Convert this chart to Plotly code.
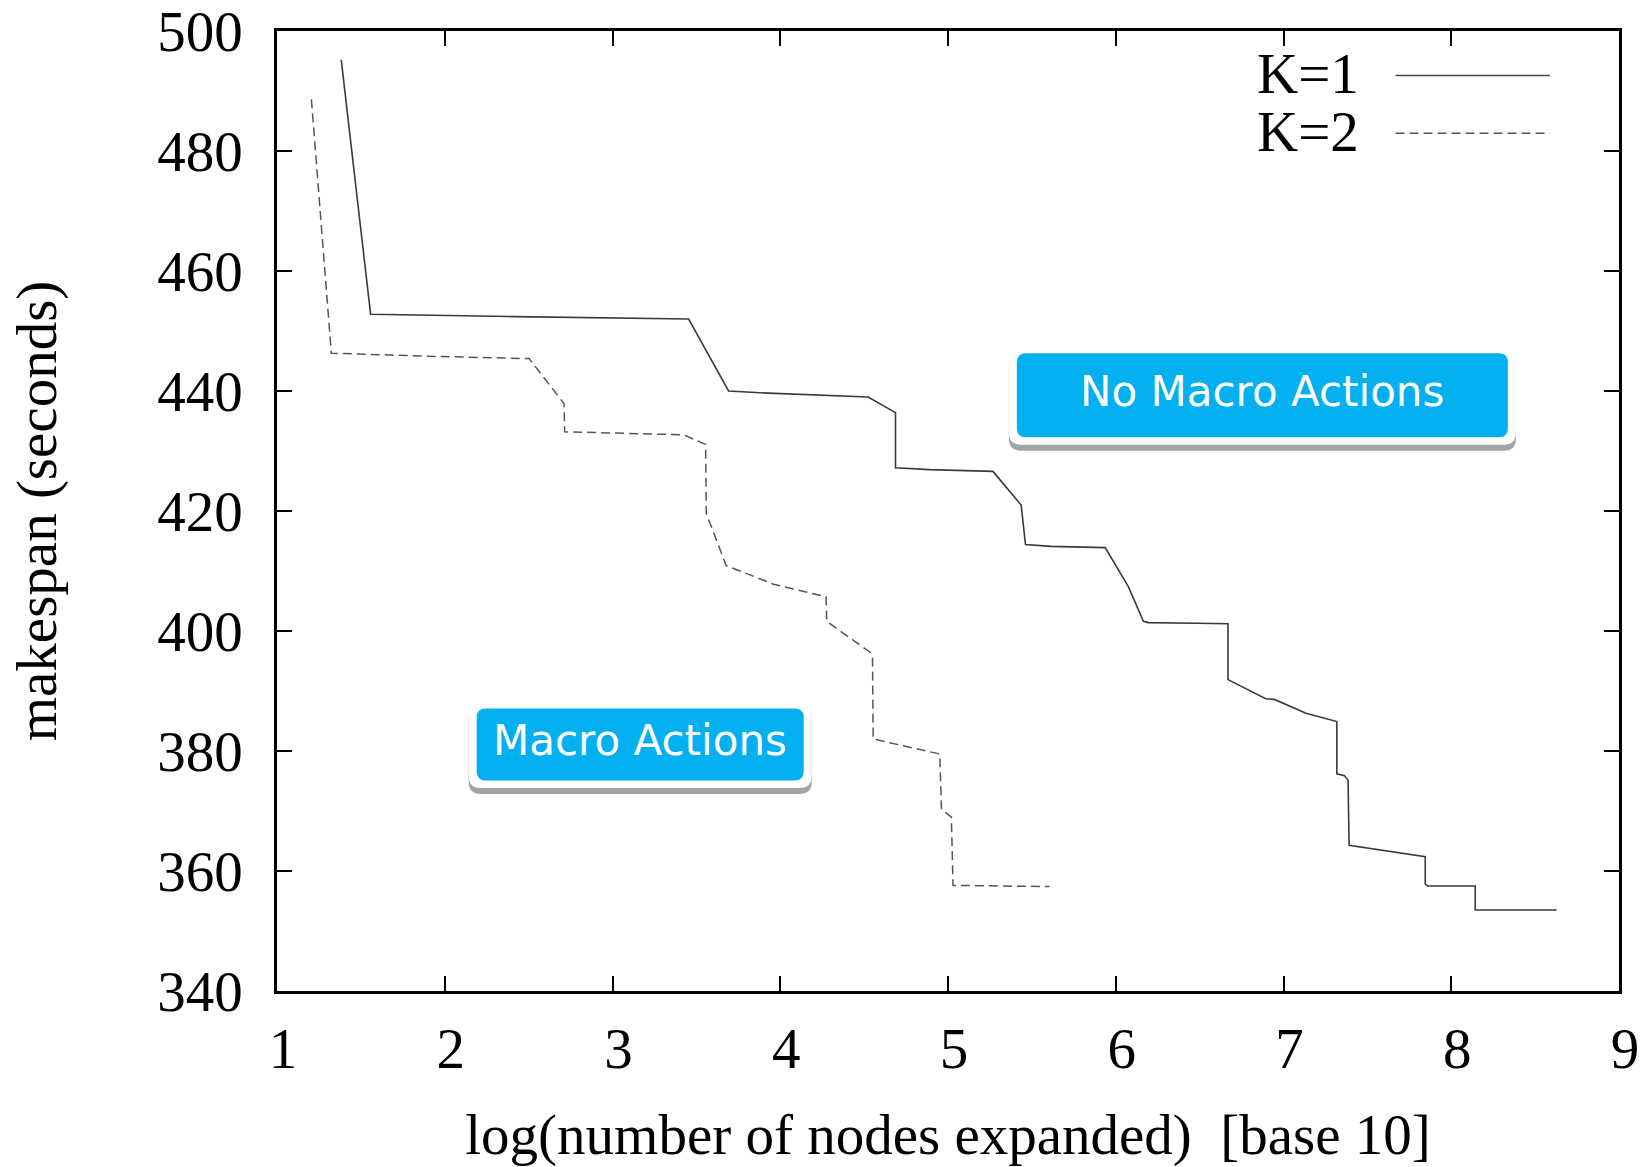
import plotly.graph_objects as go

# ---------------- data ----------------
k1_x = [1.383, 1.558, 2.415, 3.454, 3.692, 3.88, 4.524, 4.687, 4.687, 4.891, 5.268,
        5.436, 5.462, 5.615, 5.937, 6.075, 6.165, 6.194, 6.487, 6.669, 6.669,
        6.894, 6.946, 7.134, 7.318, 7.318, 7.364, 7.385, 7.391, 7.845, 7.845,
        7.859, 8.143, 8.143, 8.628]
k1_y = [495.2, 452.8, 452.4, 452.0, 440.0, 439.7, 439.0, 436.4, 427.2, 426.9, 426.6,
        421.0, 414.4, 414.1, 413.9, 407.4, 401.6, 401.4, 401.3, 401.2, 391.9,
        388.7, 388.6, 386.3, 384.9, 376.2, 375.9, 375.1, 364.3, 362.4, 357.8,
        357.5, 357.5, 353.5, 353.5]

k2_x = [1.205, 1.324, 1.90, 2.503, 2.711, 2.715, 3.425, 3.555, 3.559, 3.678, 3.96,
        4.019, 4.273, 4.277, 4.534, 4.55, 4.554, 4.951, 4.961, 5.02, 5.03, 5.605]
k2_y = [488.6, 446.3, 445.8, 445.4, 437.9, 433.2, 432.7, 431.1, 419.6, 410.9, 407.8,
        407.4, 405.7, 401.6, 396.5, 395.6, 382.0, 379.5, 370.2, 369.0, 357.6, 357.4]

series_names = ["K=1", "K=2"]
x_ticks = [1, 2, 3, 4, 5, 6, 7, 8, 9]
y_ticks = [340, 360, 380, 400, 420, 440, 460, 480, 500]
box_labels = ["No Macro Actions", "Macro Actions"]
box_centers = [(6.874, 439.3), (3.165, 381.1)]   # data coords
box_sizes = [(491, 84), (327, 72)]               # pixels (blue area)

SERIF = "Liberation Serif, Times New Roman, serif"
SANS = "DejaVu Sans, Verdana, sans-serif"
BLUE = "#02b0ef"

fig = go.Figure()
fig.add_trace(go.Scatter(x=k1_x, y=k1_y, mode="lines", name=series_names[0],
                         line=dict(color="#3a3a3a", width=1.6), showlegend=False))
fig.add_trace(go.Scatter(x=k2_x, y=k2_y, mode="lines", name=series_names[1],
                         line=dict(color="#555555", width=1.5, dash="9px,5px"),
                         showlegend=False))


def rrect(w, h, r, dx=0, dy=0):
    x0, x1 = -w / 2 + dx, w / 2 + dx
    y0, y1 = -h / 2 + dy, h / 2 + dy
    return (f"M {x0+r},{y0} L {x1-r},{y0} Q {x1},{y0} {x1},{y0+r} "
            f"L {x1},{y1-r} Q {x1},{y1} {x1-r},{y1} L {x0+r},{y1} "
            f"Q {x0},{y1} {x0},{y1-r} L {x0},{y0+r} Q {x0},{y0} {x0+r},{y0} Z")


shapes = []
annotations = []
for (cx, cy), (w, h), label in zip(box_centers, box_sizes, box_labels):
    common = dict(type="path", xref="x", yref="y", xsizemode="pixel", ysizemode="pixel",
                  xanchor=cx, yanchor=cy, layer="above", line=dict(width=0))
    shapes.append(dict(common, path=rrect(w + 16, h + 15, 12, 0, -6), fillcolor="#a3a3a3"))
    shapes.append(dict(common, path=rrect(w + 16, h + 15, 12, 0, 0), fillcolor="white"))
    shapes.append(dict(common, path=rrect(w, h, 9, 0, 0), fillcolor=BLUE))
    annotations.append(dict(x=cx, y=cy, xref="x", yref="y", text=label, showarrow=False,
                            font=dict(family=SANS, size=42, color="white"),
                            xanchor="center", yanchor="middle", yshift=4))

# manual legend (text on the left, line sample on the right)
legend_rows = [(0.9556, "solid"), (0.8955, "9px,5px")]
for name, (py, dash) in zip(series_names, legend_rows):
    annotations.append(dict(x=0.808, y=py, xref="paper", yref="paper", text=name,
                            showarrow=False, xanchor="right", yanchor="middle",
                            font=dict(family=SERIF, size=57, color="black")))
    shapes.append(dict(type="line", xref="paper", yref="paper", x0=0.8335, x1=0.9485,
                       y0=py - 0.002, y1=py - 0.002,
                       line=dict(color="#444444" if dash == "solid" else "#555555",
                                 width=1.5, dash=dash)))

axis_common = dict(showgrid=False, zeroline=False, showline=True, linecolor="black",
                   linewidth=2.5, mirror="ticks", ticks="inside", ticklen=15,
                   tickwidth=2, tickcolor="black", ticklabeloverflow="allow",
                   tickfont=dict(family=SERIF, size=57, color="black"))

fig.update_layout(
    width=1651, height=1167,
    margin=dict(l=277, r=32, t=31, b=176, autoexpand=False),
    paper_bgcolor="white", plot_bgcolor="white",
    xaxis=dict(axis_common, range=[1, 9], tickvals=x_ticks, ticklabelstandoff=6,
               ticklabelshift=6,
               title=dict(text="log(number of nodes expanded) \u00a0[base 10]",
                          font=dict(family=SERIF, size=57, color="black"), standoff=48),
               automargin=False),
    yaxis=dict(axis_common, range=[339.999, 500.001], tickvals=y_ticks, ticklabelstandoff=20,
               title=dict(text="makespan (seconds)",
                          font=dict(family=SERIF, size=57, color="black"), standoff=83),
               automargin=False),
    shapes=shapes, annotations=annotations, showlegend=False,
)

# remove the default 8px page margin so the figure fills the browser window exactly
fig.write_html("out.html", config={"displayModeBar": False},
               post_script="document.body.style.margin='0';")
